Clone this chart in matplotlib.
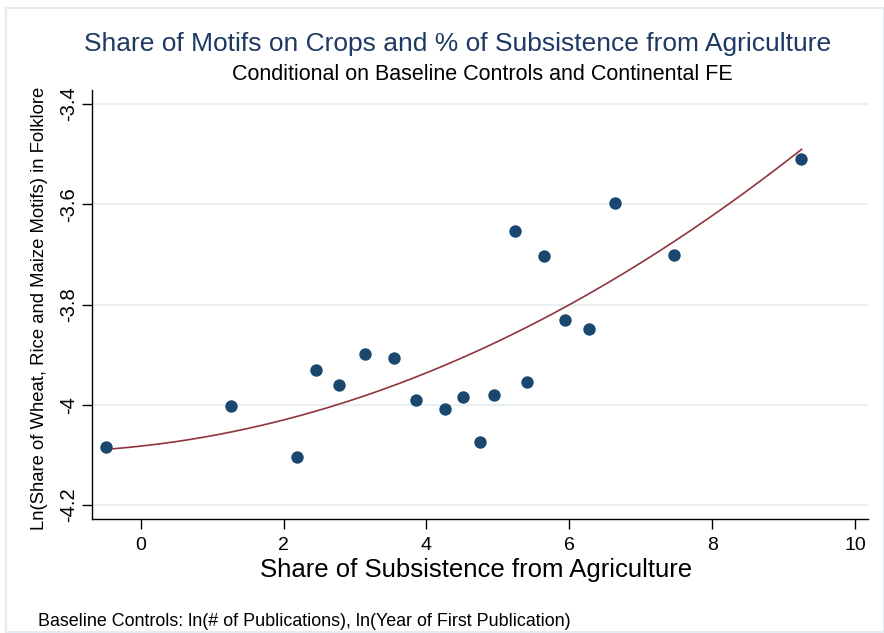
import numpy as np
import matplotlib
matplotlib.use("Agg")
import matplotlib.pyplot as plt
from matplotlib.patches import Rectangle

plt.rcParams['font.family'] = ['Liberation Sans', 'DejaVu Sans']

# binned residuals
subsistence = [-0.49, 1.26, 2.19, 2.46, 2.77, 3.14, 3.54, 3.86, 4.26, 4.51,
               4.75, 4.95, 5.24, 5.41, 5.65, 5.94, 6.27, 6.64, 7.47, 9.24]
ln_share = [-4.085, -4.003, -4.105, -3.931, -3.961, -3.898, -3.907, -3.991, -4.009, -3.985,
            -4.074, -3.981, -3.653, -3.955, -3.703, -3.830, -3.849, -3.598, -3.701, -3.510]
# quadratic fit drawn in the picture (fit on the unbinned data), highest power first
qfit_coef = [0.005228, 0.01566, -4.0826]
qfit_range = [-0.49, 9.25]
x_ticks = [0, 2, 4, 6, 8, 10]
y_ticks = [-4.2, -4.0, -3.8, -3.6, -3.4]
y_ticklabels = ['-4.2', '-4', '-3.8', '-3.6', '-3.4']

navy = '#1a476f'
maroon = '#90353b'

fig = plt.figure(figsize=(8.84, 6.33), dpi=100)
fig.patches.append(Rectangle((6 / 884, 1 - 632 / 633), 878 / 884, 624 / 633,
                             transform=fig.transFigure, fill=False,
                             edgecolor='#e4ecf1', linewidth=1.5))
ax = fig.add_axes([0.1037, 0.1801, 0.8782, 0.6777])

xs = np.linspace(qfit_range[0], qfit_range[1], 200)
ax.plot(xs, np.polyval(qfit_coef, xs), color=maroon, linewidth=1.2, zorder=2)
ax.scatter(subsistence, ln_share, s=80, color=navy, linewidths=0, zorder=3)

ax.set_xlim(-0.686, 10.18)
ax.set_ylim(-4.228, -3.372)
ax.set_xticks(x_ticks)
ax.set_xticklabels([str(t) for t in x_ticks], fontsize=14)
ax.set_yticks(y_ticks)
ax.set_yticklabels(y_ticklabels, fontsize=14.5, rotation=90, va='center')
ax.tick_params(direction='out', length=7, width=1, color='black')
ax.tick_params(axis='x', pad=6)
ax.tick_params(axis='y', pad=3)
ax.grid(axis='y', color='#e8eff3', linewidth=1.5)
ax.set_axisbelow(True)
for side in ['top', 'right']:
    ax.spines[side].set_visible(False)
for side in ['left', 'bottom']:
    ax.spines[side].set_linewidth(1)

ax.set_xlabel('Share of Subsistence from Agriculture', fontsize=18.5)
ax.xaxis.set_label_coords(0.495, -0.091)
ax.set_ylabel('Ln(Share of Wheat, Rice and Maize Motifs) in Folklore', fontsize=13.3)
ax.yaxis.set_label_coords(-0.056, 0.49)

fig.text(457.5 / 884, 1 - 44 / 633, 'Share of Motifs on Crops and % of Subsistence from Agriculture',
         fontsize=19, color='#1e3a63', ha='center', va='center')
fig.text(482 / 884, 1 - 75 / 633, 'Conditional on Baseline Controls and Continental FE',
         fontsize=15.5, color='black', ha='center', va='center')
fig.text(38 / 884, 1 - 621 / 633, 'Baseline Controls: ln(# of Publications), ln(Year of First Publication)',
         fontsize=12.9, color='black', ha='left', va='center')

fig.savefig('out.png', dpi=100)
